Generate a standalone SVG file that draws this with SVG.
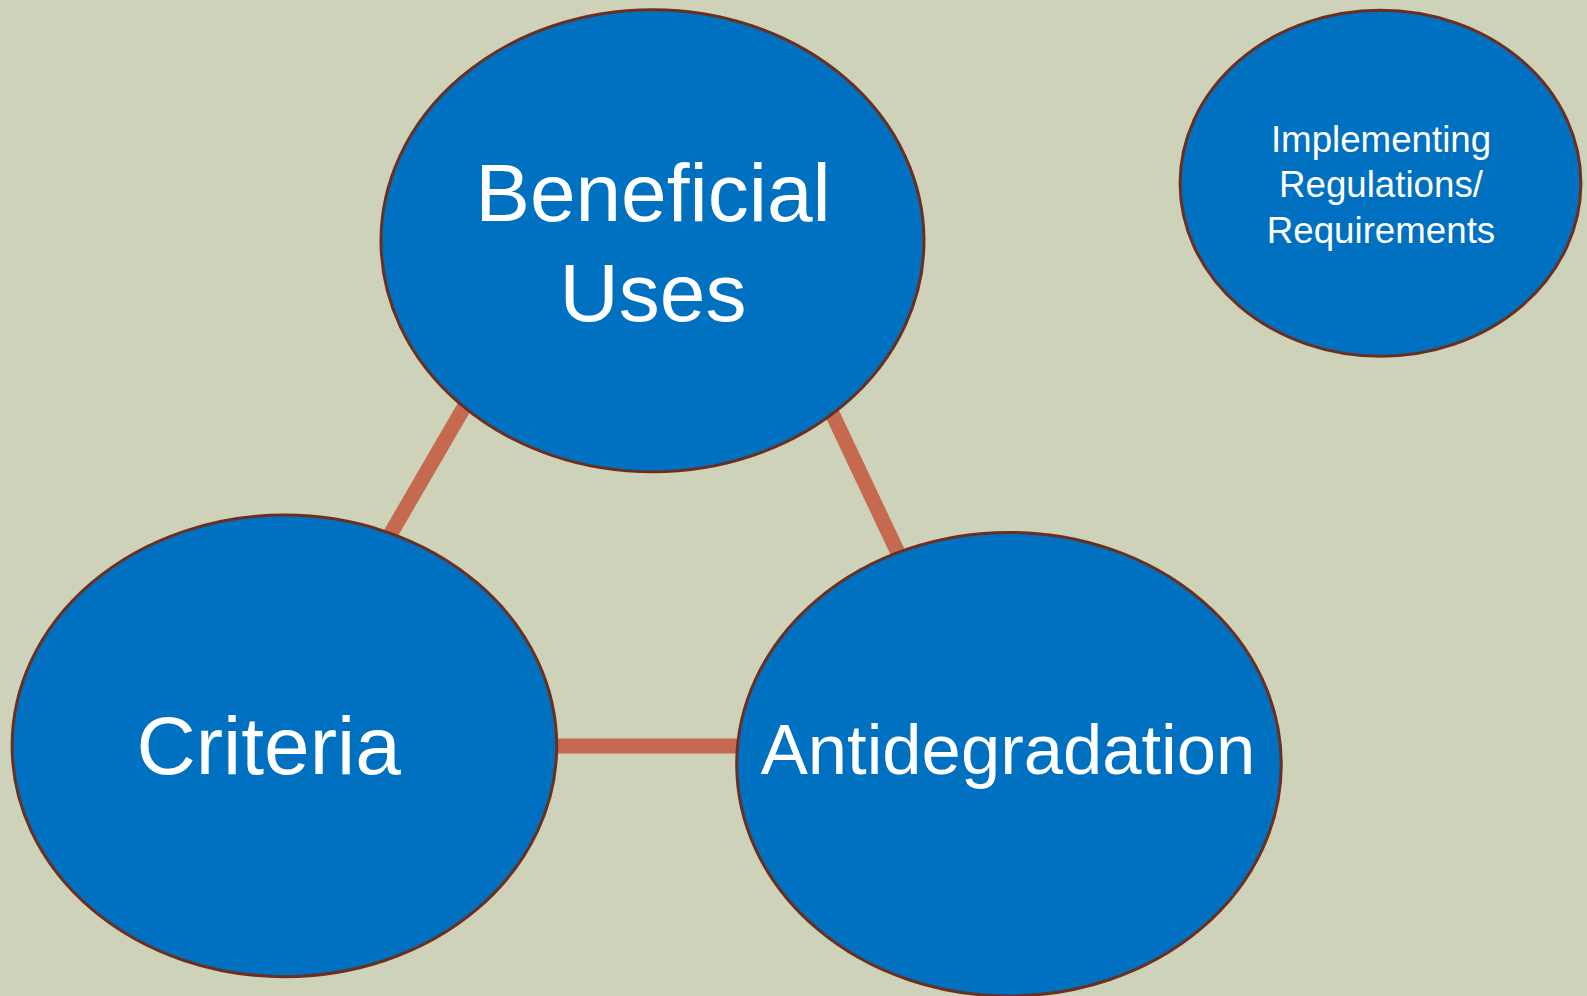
<svg xmlns="http://www.w3.org/2000/svg" width="1587" height="996" viewBox="0 0 1587 996">
<style>
.node{fill:#0070C0;stroke:#6B2F1F;stroke-width:3}
.lbl{fill:#FFFFFF;font-family:"Liberation Sans",Arial,sans-serif;text-anchor:middle}
.conn{stroke:#C56A50;stroke-width:15;fill:none}
</style>
<rect width="1587" height="996" fill="#CDD2B9"/>
<g id="connectors">
<line class="conn" x1="477" y1="385" x2="380" y2="552"/>
<line class="conn" x1="822" y1="392" x2="908" y2="574"/>
<line class="conn" x1="540" y1="746" x2="750" y2="746"/>
</g>
<g id="beneficial-uses">
<ellipse class="node" cx="652.5" cy="240.8" rx="271.5" ry="231"/>
<text class="lbl" font-size="82" x="653" y="220.6">Beneficial</text>
<text class="lbl" font-size="82" x="653" y="320.8">Uses</text>
</g>
<g id="implementing">
<ellipse class="node" cx="1380.5" cy="183.2" rx="200.4" ry="173"/>
<text class="lbl" font-size="36.7" x="1381" y="151.8">Implementing</text>
<text class="lbl" font-size="36.7" x="1381" y="197.4">Regulations/</text>
<text class="lbl" font-size="36.7" x="1381" y="242.9">Requirements</text>
</g>
<g id="criteria">
<ellipse class="node" cx="284.4" cy="745.9" rx="272.3" ry="230.8"/>
<text class="lbl" font-size="82" x="268.7" y="774.3">Criteria</text>
</g>
<g id="antidegradation">
<ellipse class="node" cx="1009" cy="764.2" rx="272.3" ry="231.8"/>
<text class="lbl" font-size="70.6" x="1008" y="774.3">Antidegradation</text>
</g>
</svg>
